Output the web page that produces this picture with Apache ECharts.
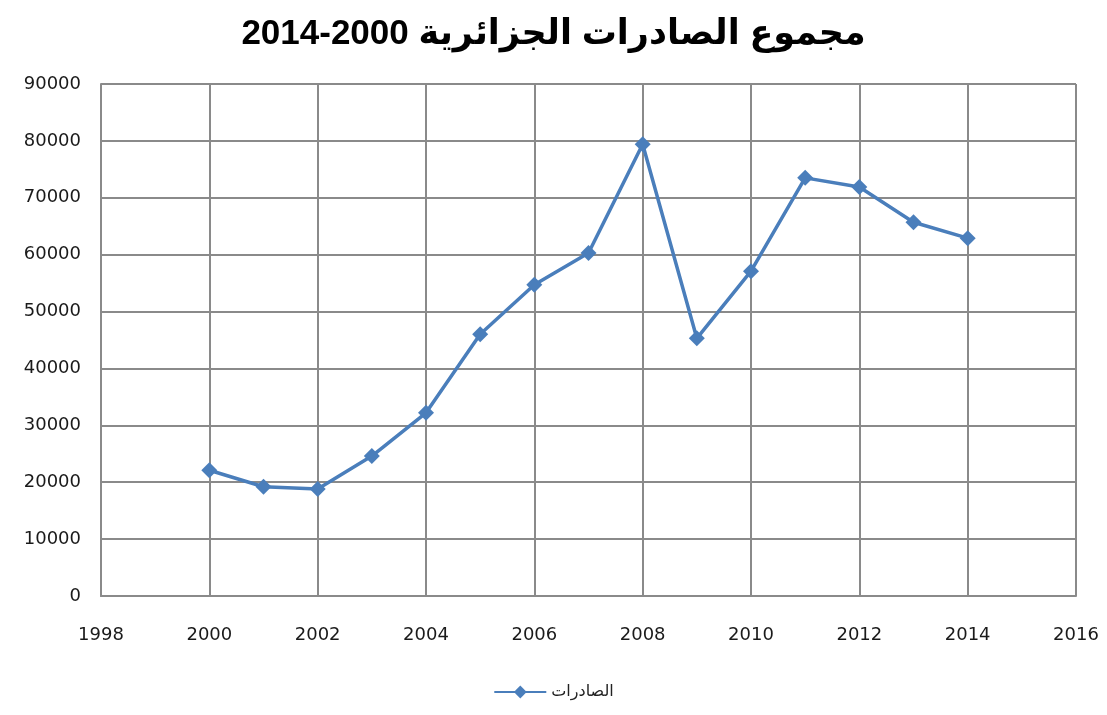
<!DOCTYPE html>
<html><head><meta charset="utf-8">
<script src="https://cdn.jsdelivr.net/npm/echarts@6/dist/echarts.min.js"></script>
<style>html,body{margin:0;padding:0;background:#fff}#c{width:1107px;height:715px}</style>
</head><body><div id="c"></div>
<script>
const years = [2000, 2001, 2002, 2003, 2004, 2005, 2006, 2007, 2008, 2009, 2010, 2011, 2012, 2013, 2014];
const exportsVals = [22100, 19200, 18800, 24600, 32200, 46000, 54700, 60300, 79400, 45300, 57100, 73500, 71900, 65700, 62900];
const seriesName = 'الصادرات';
const titleText = 'مجموع الصادرات الجزائرية 2000-2014';

const chart = echarts.init(document.getElementById('c'));
chart.setOption({
  backgroundColor: '#fff',
  animation: false,
  title: {
    text: titleText, left: 'center', top: 12,
    textStyle: { fontFamily: 'Liberation Sans, DejaVu Sans, sans-serif', fontWeight: 'bold', fontSize: 35, color: '#000' }
  },
  grid: { left: 101, right: 31, top: 84, bottom: 119 },
  xAxis: {
    type: 'value', min: 1998, max: 2016, interval: 2,
    axisLine: { show: true, lineStyle: { color: '#8a8a8a', width: 2 } },
    axisTick: { show: false },
    splitLine: { show: true, lineStyle: { color: '#8a8a8a', width: 2 } },
    axisLabel: { margin: 30, fontSize: 18, color: '#1a1a1a', fontFamily: 'DejaVu Sans, sans-serif', formatter: v => String(v) }
  },
  yAxis: {
    type: 'value', min: 0, max: 90000, interval: 10000,
    axisLine: { show: true, lineStyle: { color: '#8a8a8a', width: 2 } },
    axisTick: { show: false },
    splitLine: { show: true, lineStyle: { color: '#8a8a8a', width: 2 } },
    axisLabel: { margin: 20, fontSize: 18, color: '#1a1a1a', fontFamily: 'DejaVu Sans, sans-serif', formatter: v => String(v) }
  },
  legend: {
    bottom: 10, left: 'center',
    itemWidth: 52, itemHeight: 16, itemGap: 4,
    textStyle: { fontSize: 16, color: '#222', fontFamily: 'DejaVu Sans, sans-serif' },
    data: [{ name: seriesName }]
  },
  series: [{
    name: seriesName, type: 'line',
    data: years.map((y, i) => [y, exportsVals[i]]),
    symbol: 'diamond', symbolSize: 16,
    lineStyle: { color: '#4a7ebb', width: 3.5 },
    itemStyle: { color: '#4a7ebb' }
  }]
});
</script></body></html>
